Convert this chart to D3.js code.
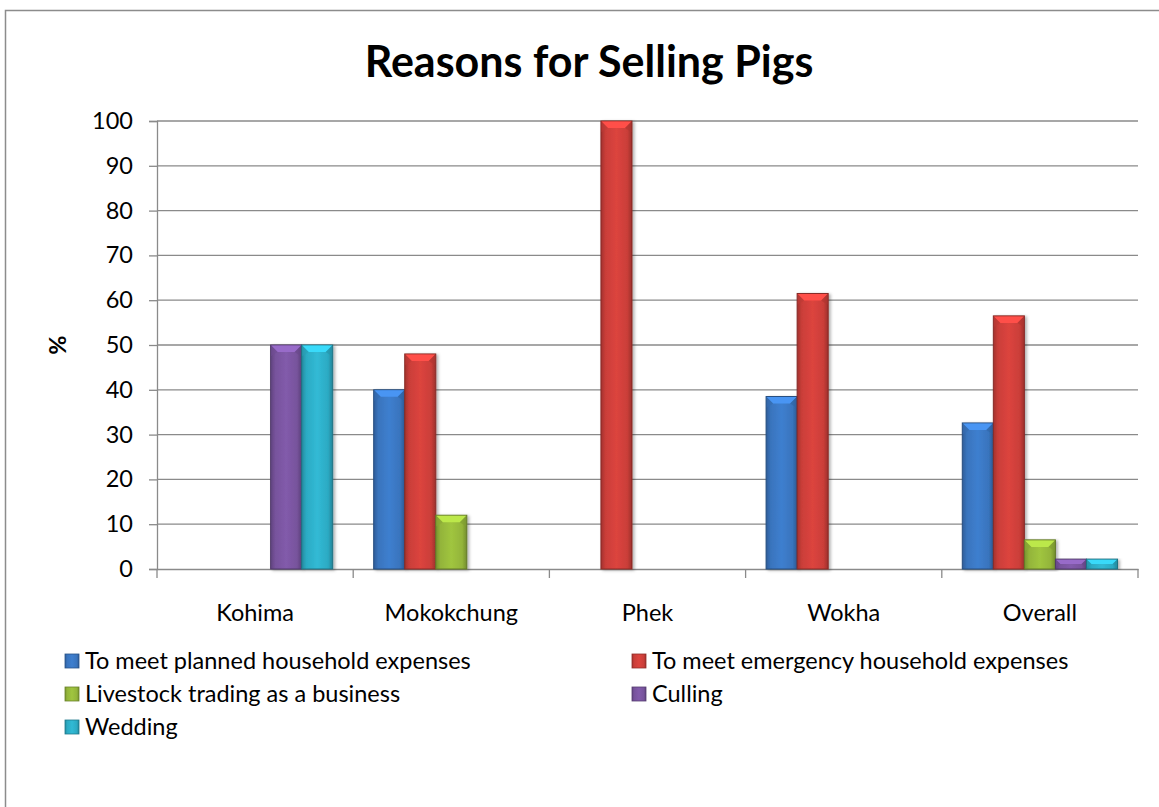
<!DOCTYPE html>
<html>
<head>
<meta charset="utf-8">
<script src="https://cdnjs.cloudflare.com/ajax/libs/d3/7.8.5/d3.min.js"></script>
<style>
  html, body { margin: 0; padding: 0; background: #fff; }
  svg { display: block; font-family: Lato, "Open Sans", "Liberation Sans", sans-serif; }
</style>
</head>
<body>
<svg id="chart" width="1159" height="807"></svg>
<script>
// Districts and survey shares (%)
const categories = ["Kohima", "Mokokchung", "Phek", "Wokha", "Overall"];
const seriesNames = [
  "To meet planned household expenses",
  "To meet emergency household expenses",
  "Livestock trading as a business",
  "Culling",
  "Wedding"
];
const planned   = [0, 40, 0, 38.5, 32.6];
const emergency = [0, 48, 100, 61.5, 56.5];
const trading   = [0, 12, 0, 0, 6.5];
const culling   = [50, 0, 0, 0, 2.2];
const wedding   = [50, 0, 0, 0, 2.2];
const yTicks = [0, 10, 20, 30, 40, 50, 60, 70, 80, 90, 100];

const seriesValues = [planned, emergency, trading, culling, wedding];
const colors = ["#3b78c4", "#d1403b", "#98bb3c", "#7b56a2", "#2eb0ca"];

const FONT = 23.5;
const svg = d3.select("#chart");
const margin = { left: 157, right: 1138, top: 121, bottom: 569 };

// outer frame
svg.append("rect")
  .attr("x", 5.5).attr("y", 10.5)
  .attr("width", 1170).attr("height", 820)
  .attr("fill", "none").attr("stroke", "#8c8c8c").attr("stroke-width", 1.5);

// gradients for each series
const defs = svg.append("defs");
colors.forEach((c, i) => {
  const base = d3.color(c);
  const g = defs.append("linearGradient").attr("id", "grad" + i)
    .attr("x1", "0%").attr("x2", "100%").attr("y1", "0%").attr("y2", "0%");
  g.append("stop").attr("offset", "0%").attr("stop-color", base.darker(0.7));
  g.append("stop").attr("offset", "15%").attr("stop-color", base.darker(0.1));
  g.append("stop").attr("offset", "50%").attr("stop-color", base.brighter(0.15));
  g.append("stop").attr("offset", "85%").attr("stop-color", base.darker(0.1));
  g.append("stop").attr("offset", "100%").attr("stop-color", base.darker(0.8));
});
const shadow = defs.append("filter").attr("id", "shadow")
  .attr("x", "-20%").attr("y", "-5%").attr("width", "150%").attr("height", "115%");
shadow.append("feDropShadow").attr("dx", 2).attr("dy", 1).attr("stdDeviation", 1.5)
  .attr("flood-color", "#000").attr("flood-opacity", 0.3);

// title
svg.append("text")
  .attr("x", 589).attr("y", 77)
  .attr("text-anchor", "middle")
  .attr("font-size", 43).attr("font-weight", "bold")
  .attr("fill", "#000")
  .text("Reasons for Selling Pigs");

// scales
const x0 = d3.scaleBand().domain(categories).range([margin.left, margin.right]).paddingInner(0).paddingOuter(0);
const x1 = d3.scaleBand().domain(d3.range(seriesNames.length)).range([0, x0.bandwidth()]).paddingOuter(0.66).paddingInner(0);
const y = d3.scaleLinear().domain([0, 100]).range([margin.bottom, margin.top]);

// gridlines
svg.append("g").selectAll("line").data(yTicks.filter(d => d > 0)).join("line")
  .attr("x1", margin.left).attr("x2", margin.right)
  .attr("y1", d => y(d)).attr("y2", d => y(d))
  .attr("stroke", "#8a8a8a").attr("stroke-width", 1.3);

// y axis
const yAxis = d3.axisLeft(y).tickValues(yTicks).tickSize(8).tickPadding(16);
const gy = svg.append("g").attr("transform", `translate(${margin.left},0)`).call(yAxis);
gy.select(".domain").attr("stroke", "#8a8a8a").attr("stroke-width", 1.3);
gy.selectAll(".tick line").attr("stroke", "#8a8a8a").attr("stroke-width", 1.3);
gy.selectAll(".tick text").attr("font-size", FONT).attr("fill", "#000")
  .attr("font-family", "Lato, 'Open Sans', sans-serif");

// x axis
const xAxis = d3.axisBottom(x0).tickSize(0).tickPadding(35);
const gx = svg.append("g").attr("transform", `translate(0,${margin.bottom})`).call(xAxis);
gx.select(".domain").attr("stroke", "#8a8a8a").attr("stroke-width", 1.3);
gx.selectAll(".tick text").attr("font-size", FONT).attr("fill", "#000")
  .attr("font-family", "Lato, 'Open Sans', sans-serif");
// category separators
const seps = categories.map(c => x0(c)).concat([margin.right]);
svg.append("g").selectAll("line").data(seps).join("line")
  .attr("x1", d => d).attr("x2", d => d)
  .attr("y1", margin.bottom).attr("y2", margin.bottom + 9)
  .attr("stroke", "#8a8a8a").attr("stroke-width", 1.3);

// y axis title
svg.append("text")
  .attr("transform", "translate(66,345) rotate(-90)")
  .attr("text-anchor", "middle")
  .attr("font-size", FONT).attr("font-weight", "bold")
  .text("%");

// bars
const rows = [];
categories.forEach((c, ci) => {
  seriesValues.forEach((vals, si) => {
    if (vals[ci] > 0) rows.push({ cat: c, si, v: vals[ci] });
  });
});
const bars = svg.append("g").selectAll("g").data(rows).join("g");
bars.each(function(d) {
  const g = d3.select(this);
  const bx = x0(d.cat) + x1(d.si);
  const bw = x1.bandwidth();
  const by = y(d.v);
  const bh = y(0) - by;
  g.append("rect")
    .attr("x", bx).attr("y", by).attr("width", bw).attr("height", bh)
    .attr("fill", `url(#grad${d.si})`)
    .attr("stroke", d3.color(colors[d.si]).darker(1.2)).attr("stroke-width", 1)
    .attr("filter", "url(#shadow)");
  // bevelled cap
  const bev = Math.min(7, bh / 2);
  g.append("polygon")
    .attr("points", [[bx + 0.5, by + 0.5], [bx + bw - 0.5, by + 0.5], [bx + bw - bev, by + bev], [bx + bev, by + bev]].map(p => p.join(",")).join(" "))
    .attr("fill", d3.color(colors[d.si]).brighter(0.6));
  g.append("polygon")
    .attr("points", [[bx + 0.5, by + 0.5], [bx + bev, by + bev], [bx + 0.5, by + bev * 1.6]].map(p => p.join(",")).join(" "))
    .attr("fill", d3.color(colors[d.si]).darker(0.3)).attr("opacity", 0.6);
  g.append("polygon")
    .attr("points", [[bx + bw - 0.5, by + 0.5], [bx + bw - bev, by + bev], [bx + bw - 0.5, by + bev * 1.6]].map(p => p.join(",")).join(" "))
    .attr("fill", d3.color(colors[d.si]).darker(0.5)).attr("opacity", 0.6);
});

// legend
const legendPos = [[65, 661], [632, 661], [65, 694], [632, 694], [65, 727]];
const lg = svg.append("g").selectAll("g").data(seriesNames).join("g")
  .attr("transform", (d, i) => `translate(${legendPos[i][0]},${legendPos[i][1]})`);
lg.append("rect")
  .attr("x", 0).attr("y", -7).attr("width", 14).attr("height", 14)
  .attr("fill", (d, i) => `url(#grad${i})`)
  .attr("stroke", (d, i) => d3.color(colors[i]).darker(1)).attr("stroke-width", 0.8);
lg.append("text")
  .attr("x", 20).attr("y", 0).attr("dy", "0.35em")
  .attr("font-size", FONT).attr("fill", "#000")
  .text(d => d);
</script>
</body>
</html>
